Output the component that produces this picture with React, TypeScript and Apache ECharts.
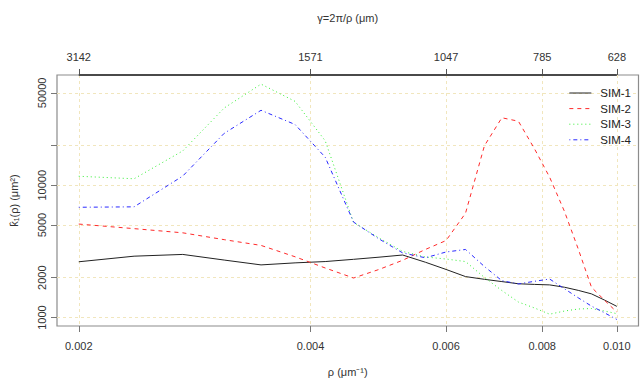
import React, { useEffect, useRef } from "react";
import * as echarts from "echarts";

// spatial frequency rho (µm^-1)
const rho = [0.0020, 0.00236, 0.00273, 0.00309, 0.00345, 0.00382, 0.00418, 0.00455, 0.00491, 0.00527, 0.00564, 0.0060, 0.00636, 0.00673, 0.00709, 0.00745, 0.00782, 0.00818, 0.00855, 0.00891, 0.00927, 0.00964, 0.0100];

const sim1 = [2640, 2910, 3000, 2720, 2500, 2590, 2650, 2755, 2860, 2970, 2620, 2310, 2040, 1945, 1870, 1800, 1780, 1765, 1695, 1605, 1510, 1355, 1215];
const sim2 = [5090, 4700, 4370, 3880, 3510, 2880, 2370, 1990, 2310, 2710, 3270, 3820, 6150, 19900, 32400, 30500, 18800, 11500, 6350, 3300, 1695, 1350, 1100];
const sim3 = [11700, 11200, 18200, 38400, 58200, 43100, 21700, 5240, 4000, 3160, 2870, 2770, 2650, 2010, 1600, 1310, 1180, 1060, 1120, 1160, 1170, 1120, 1070];
const sim4 = [6820, 6870, 11750, 24700, 36900, 28800, 16300, 5270, 3930, 3080, 2830, 3130, 3270, 2430, 1900, 1795, 1880, 1955, 1650, 1410, 1220, 1085, 967];

const seriesNames = ["SIM-1", "SIM-2", "SIM-3", "SIM-4"];

const xTicks = [0.002, 0.004, 0.006, 0.008, 0.010];
const xTickLabels = ["0.002", "0.004", "0.006", "0.008", "0.010"];
const topTickLabels = ["3142", "1571", "1047", "785", "628"];
const yTicks = [1000, 2000, 5000, 10000, 20000, 50000];
const yLabelTicks = [1000, 2000, 5000, 10000, 50000];

const X_MIN = 0.001874;
const X_MAX = 0.01067;
const Y_MIN = 863;
const Y_MAX = 68200;

export default function App() {
  const ref = useRef<HTMLDivElement>(null);
  useEffect(() => {
    if (!ref.current) return;
    const chart = echarts.init(ref.current, null, { renderer: "svg" });
    const font = "Liberation Sans, Arial, sans-serif";
    const gridLine = { show: true, lineStyle: { color: "#f1e6bd", type: [3, 3] as any, width: 1 } };
    const mk = (vals: number[]) => vals.map((v, i) => [rho[i], v]);
    const colors = ["#222222", "#ff2a2a", "#33ee33", "#2a2aff"];
    const types: any[] = ["solid", [4, 4], [1, 3], [1, 3, 4, 3]];
    const data = [sim1, sim2, sim3, sim4];
    const option: any = {
      animation: false,
      textStyle: { fontFamily: font },
      grid: {
        left: 55.7, right: 1.5, top: 75, bottom: 53.5,
        show: true, borderColor: "#8c8c8c", borderWidth: 1.2, backgroundColor: "transparent",
      },
      legend: {
        orient: "vertical", right: 4, top: 82,
        itemWidth: 22, itemHeight: 10, itemGap: 3.6,
        data: seriesNames,
        itemStyle: { opacity: 0 },
        lineStyle: { width: 1 },
        textStyle: { fontSize: 11.5, color: "#222", fontFamily: font, padding: [0, 0, 0, 4] },
      },
      xAxis: [
        {
          type: "log", position: "bottom", min: X_MIN, max: X_MAX,
          axisLine: { show: false },
          axisTick: { show: true, inside: false, length: 6, customValues: xTicks, lineStyle: { color: "#777" } },
          axisLabel: {
            customValues: xTicks, margin: 14, fontSize: 11, color: "#333",
            formatter: (v: number) => xTickLabels[xTicks.findIndex((t) => Math.abs(t - v) < 1e-6)] ?? "",
          },
          splitLine: gridLine,
          name: "ρ (μm⁻¹)", nameLocation: "middle", nameGap: 40,
          nameTextStyle: { fontSize: 11, color: "#333" },
        },
        {
          type: "log", position: "top", min: X_MIN, max: X_MAX,
          axisLine: { show: false },
          axisTick: { show: true, inside: false, length: 6, customValues: xTicks, lineStyle: { color: "#555" } },
          axisLabel: {
            customValues: xTicks, margin: 13, fontSize: 11, color: "#333",
            formatter: (v: number) => topTickLabels[xTicks.findIndex((t) => Math.abs(t - v) < 1e-6)] ?? "",
          },
          splitLine: { show: false },
          name: "γ=2π/ρ (μm)", nameLocation: "middle", nameGap: 52,
          nameTextStyle: { fontSize: 11, color: "#333" },
        },
      ],
      yAxis: {
        type: "log", min: Y_MIN, max: Y_MAX,
        axisLine: { show: false },
        axisTick: { show: true, inside: false, length: 6, customValues: yTicks, lineStyle: { color: "#777" } },
        axisLabel: {
          customValues: yLabelTicks, rotate: 90, margin: 10, fontSize: 11, color: "#333",
          formatter: (v: number) => String(Math.round(v)),
        },
        splitLine: gridLine,
        name: "k̂₁(ρ) (μm²)", nameLocation: "middle", nameGap: 38, nameRotate: 90,
        nameTextStyle: { fontSize: 11, color: "#333" },
      },
      series: seriesNames.map((n, k) => ({
        name: n, type: "line", xAxisIndex: 0, symbol: "none", showSymbol: false,
        data: mk(data[k]),
        lineStyle: { color: colors[k], width: 1, type: types[k] },
        itemStyle: { color: colors[k] },
        z: 3 + k,
      })),
    };
    chart.setOption(option);
    const p0 = chart.convertToPixel({ gridIndex: 0 }, [xTicks[0], Y_MAX]) as number[];
    const p1 = chart.convertToPixel({ gridIndex: 0 }, [xTicks[xTicks.length - 1], Y_MAX]) as number[];
    if (p0 && p1) {
      chart.setOption({
        graphic: [
          {
            type: "line", z: 10,
            shape: { x1: p0[0], y1: p0[1], x2: p1[0], y2: p1[1] },
            style: { stroke: "#4a4a4a", lineWidth: 1.8 },
          },
        ],
      });
    }
    return () => chart.dispose();
  }, []);
  return <div ref={ref} style={{ width: 640, height: 382, position: "absolute", left: 0, top: 0 }} />;
}
